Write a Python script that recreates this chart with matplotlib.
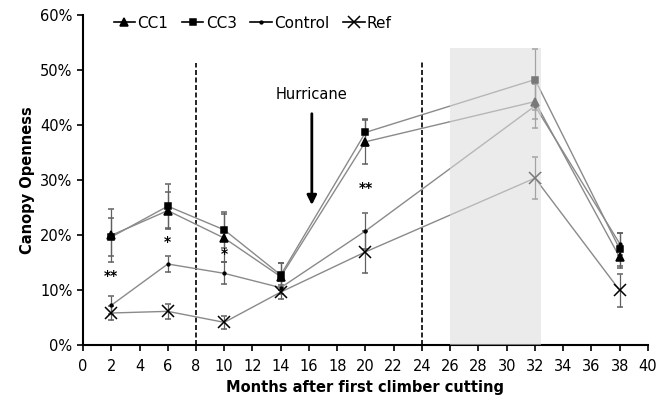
import numpy as np
import matplotlib
matplotlib.use('Agg')
import matplotlib.pyplot as plt
from matplotlib.lines import Line2D
from matplotlib.ticker import PercentFormatter

# months after first climber cutting
months = [2, 6, 10, 14, 20, 32, 38]

# canopy openness (%) and error bars
cc1 = [20.0, 24.5, 19.5, 12.5, 37.0, 44.3, 16.0]
cc1_err = [4.8, 3.3, 4.3, 2.4, 4.0, 3.2, 2.0]
cc3 = [19.7, 25.3, 21.0, 12.8, 38.7, 48.3, 17.5]
cc3_err = [3.4, 4.0, 3.3, 2.2, 2.5, 5.6, 3.0]
control = [7.3, 14.8, 13.1, 10.5, 20.8, 43.5, 18.5]
control_err = [1.6, 1.4, 2.0, 1.2, 3.3, 4.0, 2.0]
ref = [5.9, 6.2, 4.2, 9.7, 17.0, 30.4, 10.0]
ref_err = [1.3, 1.4, 1.2, 1.2, 3.8, 3.8, 3.0]

# significance marks
stars_x = [2, 6, 10, 20]
stars_y = [12.6, 18.8, 16.6, 28.6]
stars_txt = ['**', '*', '*', '**']

fig = plt.figure(figsize=(6.71, 4.09), dpi=100)
ax = fig.add_axes([0.1237, 0.1553, 0.842, 0.8077])

series = [
    (cc1, cc1_err, '^', 6, 'CC1'),
    (cc3, cc3_err, 's', 4, 'CC3'),
    (control, control_err, '.', 4, 'Control'),
    (ref, ref_err, 'x', 8.5, 'Ref'),
]
handles = []
for vals, errs, mk, ms, lab in series:
    ax.errorbar(months, vals, yerr=errs, color='#8a8a8a', lw=1.0,
                ecolor='#606060', elinewidth=0.9, capsize=2.5, capthick=0.9,
                marker=mk, ms=ms, mfc='black', mec='black', mew=1.1, zorder=3)
    handles.append(Line2D([], [], color='black', lw=1.2, marker=mk, ms=ms,
                          mfc='black', mec='black', mew=1.1, label=lab))

# dashed lines and shaded period
ax.plot([8, 8], [0, 51.3], color='black', ls='--', lw=1.2, dashes=(3, 1.5), zorder=2)
ax.plot([24, 24], [0, 51.8], color='black', ls='--', lw=1.2, dashes=(3, 1.5), zorder=2)
ax.fill_between([25.95, 32.4], 0, 54, color='#dcdcdc', alpha=0.55, lw=0, zorder=5)

# hurricane arrow
ax.annotate('', xy=(16.2, 25.0), xytext=(16.2, 42.6),
            arrowprops=dict(arrowstyle='-|>', color='black', lw=2, mutation_scale=14))
ax.text(16.2, 44.2, 'Hurricane', ha='center', va='bottom', fontsize=10.5)

for sx, sy, st in zip(stars_x, stars_y, stars_txt):
    ax.text(sx, sy, st, ha='center', va='center', fontsize=10, fontweight='bold')

ax.set_xlim(0, 40)
ax.set_ylim(0, 60)
ax.set_xticks(np.arange(0, 41, 2))
ax.set_yticks(np.arange(0, 61, 10))
ax.yaxis.set_major_formatter(PercentFormatter(decimals=0))
ax.tick_params(labelsize=10.5, width=1.2, length=4, colors='black')
ax.tick_params(axis='x', pad=6)
ax.spines['top'].set_visible(False)
ax.spines['right'].set_visible(False)
ax.spines['left'].set_linewidth(1.5)
ax.spines['bottom'].set_linewidth(1.5)

ax.set_xlabel('Months after first climber cutting', fontsize=10.5, fontweight='bold')
ax.set_ylabel('Canopy Openness', fontsize=10.5, fontweight='bold')

ax.legend(handles=handles, loc='upper left', bbox_to_anchor=(0.03, 1.04), ncol=4,
          frameon=False, fontsize=11, handlelength=1.4, handletextpad=0.15,
          columnspacing=0.9)

fig.savefig('out.png', dpi=100)
